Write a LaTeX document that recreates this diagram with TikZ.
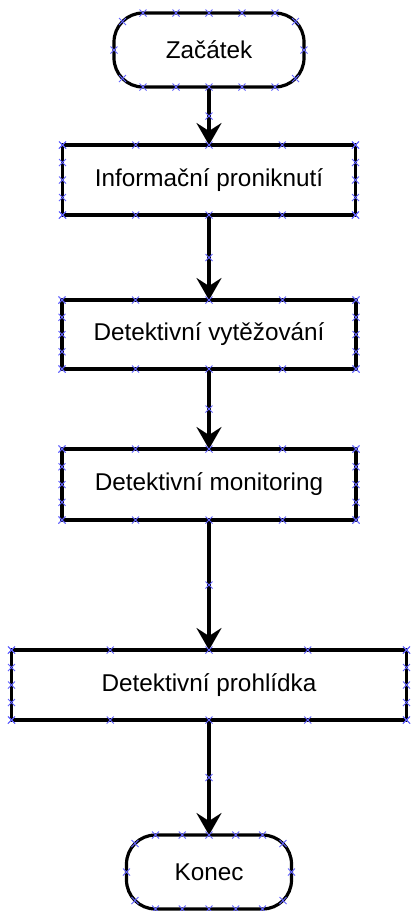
\documentclass[tikz,border=0pt]{standalone}
\usepackage{fontspec}
\setmainfont{Liberation Sans}
\usepackage{tikz}
\definecolor{pinblue}{RGB}{100,100,255}
\usetikzlibrary{positioning,arrows.meta,calc}
\tikzset{%
  block/.style={draw, line width=3.2pt, inner sep=0pt, outer sep=0pt,
    minimum height=70pt, font=\fontsize{24.3}{28}\selectfont},% process box
  terminal/.style={block, rounded corners=29pt, minimum height=74pt},% start / end
  flow/.style={line width=3.2pt, -{Stealth[length=22pt,width=25pt,inset=8pt]}},% connector
  pin/.style={draw=pinblue, line width=0.8pt}% blue connection cross
}
\newcommand*{\pinmark}[1]{\draw[pin] (#1) +(-3.5,-3.5) -- +(3.5,3.5) +(-3.5,3.5) -- +(3.5,-3.5);}
\newcommand*{\boxpins}[1]{
  \foreach \p in {0,0.25,0.5,0.75,1} {
    \pinmark{$(#1.north west)!\p!(#1.north east)$}
    \pinmark{$(#1.south west)!\p!(#1.south east)$}
    \pinmark{$(#1.north west)!\p!(#1.south west)$}
    \pinmark{$(#1.north east)!\p!(#1.south east)$}
  }}
\newcommand*{\termpins}[2]{
  \foreach \p in {0,0.25,0.5,0.75,1} {
    \pinmark{$(#1.north)+({(\p-0.5)*#2},0)$}
    \pinmark{$(#1.south)+({(\p-0.5)*#2},0)$}
  }
  \pinmark{$(#1.north west)+(8.5,8.5)$}
  \pinmark{$(#1.north east)+(-8.5,8.5)$}
  \pinmark{$(#1.south west)+(8.5,-8.5)$}
  \pinmark{$(#1.south east)+(-8.5,-8.5)$}
  \pinmark{#1.west}
  \pinmark{#1.east}}

\begin{document}
\begin{tikzpicture}[x=1pt,y=-1pt]
\useasboundingbox (0,0) rectangle (410,911);

\node[terminal, minimum width=190pt] (start) at (209,50) {Začátek};
\node[block, minimum width=293pt] (info) at (209,180) {Informační proniknutí};
\node[block, minimum width=294pt, minimum height=69pt] (vytez) at (209,334.5) {Detektivní vytěžování};
\node[block, minimum width=294pt, minimum height=71pt] (monit) at (209,484.5) {Detektivní monitoring};
\node[block, minimum width=395pt] (prohl) at (209,685) {Detektivní prohlídka};
\node[terminal, minimum width=165pt] (konec) at (209,872) {Konec};

\draw[flow] (start) -- (info);
\draw[flow] (info) -- (vytez);
\draw[flow] (vytez) -- (monit);
\draw[flow] (monit) -- (prohl);
\draw[flow] (prohl) -- (konec);

% connection points
\termpins{start}{132}
\termpins{konec}{107}
\boxpins{info}
\boxpins{vytez}
\boxpins{monit}
\boxpins{prohl}
\pinmark{$(start.south)!0.5!(info.north)$}
\pinmark{$(info.south)!0.5!(vytez.north)$}
\pinmark{$(vytez.south)!0.5!(monit.north)$}
\pinmark{$(monit.south)!0.5!(prohl.north)$}
\pinmark{$(prohl.south)!0.5!(konec.north)$}

\end{tikzpicture}
\end{document}
